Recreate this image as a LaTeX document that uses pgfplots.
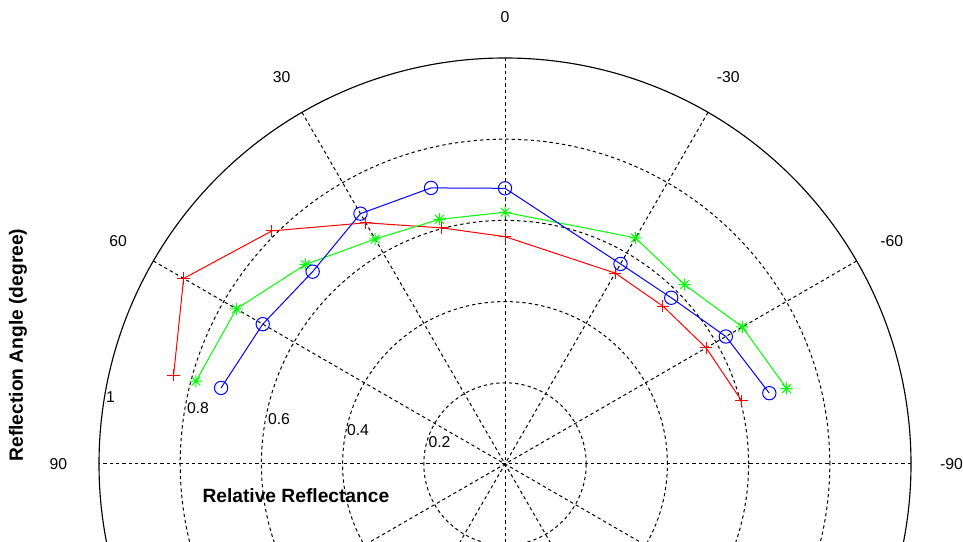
\documentclass[border=0pt]{standalone}
\usepackage{pgfplots}
\pgfplotsset{compat=1.18}
\usepackage{pgfplotstable}
\usepackage{fontspec}
\setmainfont{Liberation Sans}

\pgfdeclareplotmark{mstar}{%
  \pgfpathmoveto{\pgfpoint{-\pgfplotmarksize}{0pt}}\pgfpathlineto{\pgfpoint{\pgfplotmarksize}{0pt}}%
  \pgfpathmoveto{\pgfpoint{0pt}{-\pgfplotmarksize}}\pgfpathlineto{\pgfpoint{0pt}{\pgfplotmarksize}}%
  \pgfpathmoveto{\pgfpoint{-0.707\pgfplotmarksize}{-0.707\pgfplotmarksize}}\pgfpathlineto{\pgfpoint{0.707\pgfplotmarksize}{0.707\pgfplotmarksize}}%
  \pgfpathmoveto{\pgfpoint{-0.707\pgfplotmarksize}{0.707\pgfplotmarksize}}\pgfpathlineto{\pgfpoint{0.707\pgfplotmarksize}{-0.707\pgfplotmarksize}}%
  \pgfusepathqstroke}

% theta: reflection angle (degree, measured from 0 at top, positive to the left); r: relative reflectance
\pgfplotstableread{
theta r
75 0.845
60 0.914
45 0.812
30 0.686
15 0.602
0 0.560
-30 0.543
-45 0.550
-60 0.572
-75 0.603
}\redtable

\pgfplotstableread{
theta r
75 0.788
60 0.764
45 0.695
30 0.640
15 0.624
0 0.620
-30 0.643
-45 0.625
-60 0.675
-75 0.718
}\greentable

\pgfplotstableread{
theta r
75 0.724
60 0.689
45 0.670
30 0.712
15 0.704
0 0.679
-30 0.569
-45 0.579
-60 0.628
-75 0.674
}\bluetable

\begin{document}
\begin{tikzpicture}
\begin{axis}[
  scale only axis, width=722.25pt, height=406.5pt,
  xmin=-1.24384, xmax=1.12808, ymin=-0.19212, ymax=1.14286,
  hide axis, clip=true,
]
\coordinate (sw) at (rel axis cs:0,0);
\coordinate (ne) at (rel axis cs:1,1);
% grid circles
\pgfplotsinvokeforeach{0.2,0.4,0.6,0.8}{
  \draw[black, line width=0.75pt, dash pattern=on 2.5pt off 2.25pt] (axis cs:0,0) circle[radius=#1];
}
\draw[black, line width=0.85pt] (axis cs:0,0) circle[radius=1];
% spokes
\pgfplotsinvokeforeach{0,30,60,90,120,150}{
  \draw[black, line width=0.75pt, dash pattern=on 2.5pt off 2.25pt]
    (axis cs:{cos(#1)},{sin(#1)}) -- (axis cs:{-cos(#1)},{-sin(#1)});
}
% angle labels
\node[font=\fontsize{11.8}{14}\selectfont] at (axis cs:0,1.1) {0};
\node[font=\fontsize{11.8}{14}\selectfont] at (axis cs:{1.1*cos(120)},{1.1*sin(120)}) {30};
\node[font=\fontsize{11.8}{14}\selectfont] at (axis cs:{1.1*cos(150)},{1.1*sin(150)}) {60};
\node[font=\fontsize{11.8}{14}\selectfont] at (axis cs:-1.1,0) {90};
\node[font=\fontsize{11.8}{14}\selectfont] at (axis cs:{1.1*cos(60)},{1.1*sin(60)}) {-30};
\node[font=\fontsize{11.8}{14}\selectfont] at (axis cs:{1.1*cos(30)},{1.1*sin(30)}) {-60};
\node[font=\fontsize{11.8}{14}\selectfont] at (axis cs:1.1,0) {-90};
% radius labels
\node[font=\fontsize{11.8}{14}\selectfont] at (axis cs:-0.9717,0.1650) {1};
\node[font=\fontsize{11.8}{14}\selectfont] at (axis cs:-0.7562,0.1379) {0.8};
\node[font=\fontsize{11.8}{14}\selectfont] at (axis cs:-0.5567,0.1108) {0.6};
\node[font=\fontsize{11.8}{14}\selectfont] at (axis cs:-0.3621,0.0837) {0.4};
\node[font=\fontsize{11.8}{14}\selectfont] at (axis cs:-0.1613,0.0542) {0.2};
% axis titles
\node[font=\fontsize{14.4}{17}\selectfont\bfseries] at (axis cs:-0.515,-0.0788) {Relative Reflectance};
\node[font=\fontsize{14.4}{17}\selectfont\bfseries, rotate=90] at (axis cs:-1.1995,0.2931) {Reflection Angle (degree)};
% data
\addplot[red, line width=0.75pt, mark=+, mark size=4.6pt, data cs=polar]
  table[x expr=\thisrow{theta}+90, y=r] {\redtable};
\addplot[green, line width=0.75pt, mark=mstar, mark size=4.6pt, data cs=polar]
  table[x expr=\thisrow{theta}+90, y=r] {\greentable};
\addplot[blue, line width=0.75pt, mark=o, mark size=5pt, data cs=polar]
  table[x expr=\thisrow{theta}+90, y=r] {\bluetable};
\end{axis}
\pgfresetboundingbox
\path[use as bounding box] (sw) rectangle (ne);
\end{tikzpicture}
\end{document}
